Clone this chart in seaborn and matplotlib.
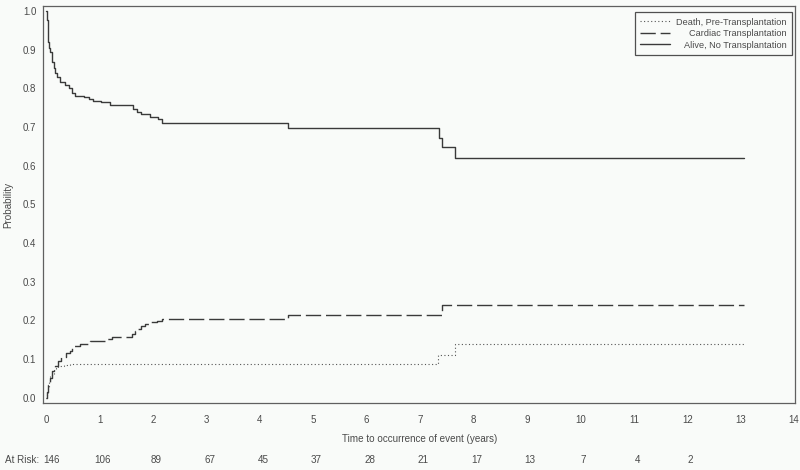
import numpy as np
import pandas as pd
import seaborn as sns
from matplotlib import pyplot as plt
from matplotlib import transforms

# Cumulative incidence step curves (value holds from each time onward)
death_t = [0, 0.01, 0.025, 0.05, 0.075, 0.10, 0.137, 0.18, 0.23, 0.33, 0.45, 7.33, 7.65, 13.06]
death_p = [0, 0.012, 0.029, 0.042, 0.055, 0.062, 0.072, 0.078, 0.083, 0.086, 0.087, 0.111, 0.139, 0.139]

cardiac_t = [0, 0.02, 0.04, 0.07, 0.10, 0.14, 0.17, 0.23, 0.27, 0.375, 0.44, 0.48, 0.525, 0.64,
             0.82, 1.14, 1.23, 1.60, 1.66, 1.72, 1.78, 1.85, 1.95, 2.08, 2.17, 4.52, 7.40, 13.06]
cardiac_p = [0, 0.015, 0.034, 0.05, 0.068, 0.075, 0.081, 0.094, 0.105, 0.115, 0.122, 0.128, 0.133, 0.138,
             0.146, 0.152, 0.158, 0.165, 0.172, 0.178, 0.186, 0.19, 0.195, 0.198, 0.203, 0.214, 0.240, 0.240]

alive_t = [0, 0.01, 0.025, 0.04, 0.06, 0.075, 0.107, 0.137, 0.17, 0.20, 0.26, 0.36, 0.42, 0.48, 0.54,
           0.70, 0.80, 0.88, 1.02, 1.20, 1.63, 1.70, 1.78, 1.95, 2.10, 2.17, 4.52, 7.36, 7.40, 7.65, 13.06]
alive_p = [1.0, 0.977, 0.95, 0.921, 0.905, 0.895, 0.869, 0.852, 0.84, 0.83, 0.816, 0.809, 0.80, 0.787, 0.781,
           0.777, 0.772, 0.768, 0.764, 0.757, 0.748, 0.740, 0.733, 0.727, 0.72, 0.71, 0.697, 0.673, 0.648, 0.621, 0.621]

labels = ['Death, Pre-Transplantation', 'Cardiac Transplantation', 'Alive, No Transplantation']

risk_years = [0, 1, 2, 3, 4, 5, 6, 7, 8, 9, 10, 11, 12]
at_risk = [146, 106, 89, 67, 45, 37, 28, 21, 17, 13, 7, 4, 2]

bg = '#f9fbf9'
ink = '#3a3a3a'
txt = '#4a4a4a'

sns.set_style('white')
plt.rcParams['font.family'] = ['Liberation Sans', 'DejaVu Sans']
plt.rcParams['font.size'] = 7

fig, ax = plt.subplots(figsize=(8, 4.7), dpi=100)
fig.patch.set_facecolor(bg)
ax.set_facecolor(bg)
fig.subplots_adjust(left=0.054, right=0.994, top=0.987, bottom=0.143)

sns.lineplot(x=death_t, y=death_p, ax=ax, drawstyle='steps-post', estimator=None,
             color='#555555', linewidth=0.8, linestyle=(0, (1, 2.2)), label=labels[0])
sns.lineplot(x=cardiac_t, y=cardiac_p, ax=ax, drawstyle='steps-post', estimator=None,
             color=ink, linewidth=1.0, linestyle=(0, (11, 3.5)), label=labels[1])
sns.lineplot(x=alive_t, y=alive_p, ax=ax, drawstyle='steps-post', estimator=None,
             color=ink, linewidth=1.0, label=labels[2])

ax.set_xlim(-0.056, 14.02)
ax.set_ylim(-0.013, 1.013)
ax.set_xticks(range(0, 15))
ax.set_yticks(np.arange(0, 1.01, 0.1))
ax.set_yticklabels([f'{v:.1f}' for v in np.arange(0, 1.01, 0.1)])
ax.tick_params(direction='out', length=3, width=0.8, colors='#606060', labelcolor=txt,
               labelsize=7, pad=2)
ax.tick_params(axis='x', pad=6)
for s in ax.spines.values():
    s.set_color('#606060')
    s.set_linewidth(0.9)

ax.set_xlabel('Time to occurrence of event (years)', color=txt, fontsize=7.1, labelpad=6)
ax.set_ylabel('Probability', color=txt, fontsize=7.1)
ax.yaxis.set_label_coords(-0.040, 0.5)

leg = ax.legend(loc='upper right', bbox_to_anchor=(0.996, 0.985), borderaxespad=0,
                fancybox=False, frameon=True, edgecolor='#505050',
                facecolor=bg, framealpha=1, fontsize=6.6, handlelength=3.2,
                borderpad=0.6, labelspacing=0.28, handletextpad=0.7)
leg.get_frame().set_linewidth(0.9)
for t in leg.get_texts():
    t.set_color(txt)

# right-align the legend labels
fig.canvas.draw()
r = fig.canvas.get_renderer()
widths = [t.get_window_extent(r).width for t in leg.get_texts()]
for t, w in zip(leg.get_texts(), widths):
    t.set_position((max(widths) - w, 0))

# At-risk row
tr = transforms.blended_transform_factory(ax.transData, fig.transFigure)
fig.text(0.006, 0.021, 'At Risk:', color=txt, fontsize=7.1, ha='left', va='center')
for yr, n in zip(risk_years, at_risk):
    xx = yr + 0.1 if yr == 0 else yr + 0.06
    ax.text(xx, 0.021, str(n), transform=tr, color=txt, fontsize=7.1,
            ha='center', va='center', clip_on=False)

fig.savefig('out.png', dpi=100, facecolor=bg)
